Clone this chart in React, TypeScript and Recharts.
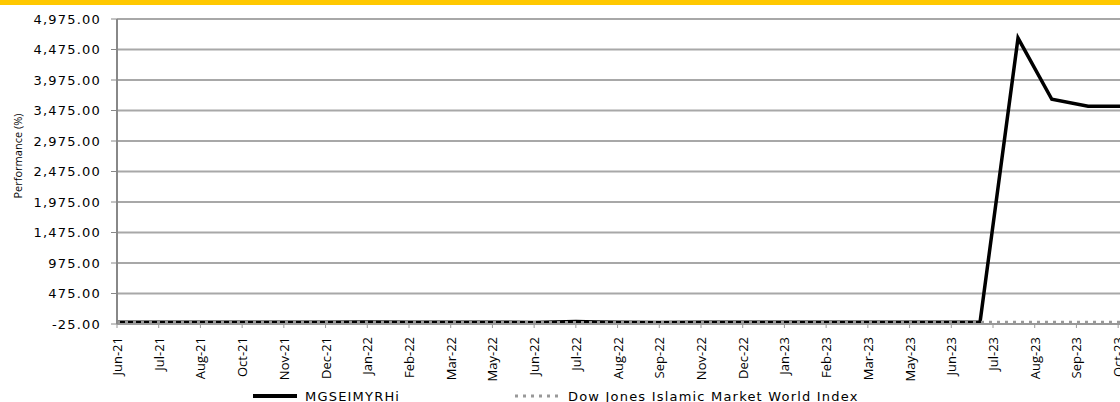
import React from 'react';
import { LineChart, Line, XAxis, YAxis, CartesianGrid } from 'recharts';

// x-axis labels (one per tick, evenly spaced on the category scale)
const tickLabels = [
  'Jun-21', 'Jul-21', 'Aug-21', 'Oct-21', 'Nov-21', 'Dec-21', 'Jan-22', 'Feb-22', 'Mar-22',
  'May-22', 'Jun-22', 'Jul-22', 'Aug-22', 'Sep-22', 'Nov-22', 'Dec-22', 'Jan-23', 'Feb-23',
  'Mar-23', 'May-23', 'Jun-23', 'Jul-23', 'Aug-23', 'Sep-23', 'Oct-23',
];

const yTicks = [-25, 475, 975, 1475, 1975, 2475, 2975, 3475, 3975, 4475, 4975];

// MGSEIMYRHi: position along the tick scale, performance (%)
const mgsPos = [0, 1, 2, 3, 4, 5, 6, 7, 8, 9, 10, 10.5, 11, 11.5, 12, 13, 14, 15, 16, 17, 18, 19, 20, 20.69, 21.6, 22.41, 23.28, 24.5];
const mgsVals = [3, 2, 4, 3, 5, 4, 6, 5, 4, 3, 0, 8, 14, 6, 2, 1, 2, 3, 2, 4, 3, 2, 4, 8, 4663, 3659, 3544, 3544];

// Dow Jones Islamic Market World Index
const djPos = [0, 2, 4, 6, 8, 10, 12, 14, 16, 18, 20, 22, 24, 24.5];
const djVals = [2, 3, 4, 4, 2, -1, 0, -2, 0, 2, 4, 3, 2, 2];

const mgsData = mgsPos.map((x, i) => ({ x, v: mgsVals[i] }));
const djData = djPos.map((x, i) => ({ x, v: djVals[i] }));

const fmt = (v: number) =>
  v.toLocaleString('en-US', { minimumFractionDigits: 2, maximumFractionDigits: 2 });

const XTick = (props: any) => {
  const { x, y, payload } = props;
  return (
    <text
      transform={`translate(${x},${y + 7}) rotate(-90)`}
      textAnchor="end"
      dominantBaseline="central"
      fontFamily="'Open Sans', sans-serif"
      fontSize={13}
      fill="#000"
    >
      {tickLabels[payload.value]}
    </text>
  );
};

const AxisTitle = () => (
  <text
    x={17}
    y={156}
    transform="rotate(-90 17 156)"
    textAnchor="middle"
    dominantBaseline="central"
    fontFamily="'Open Sans', sans-serif"
    fontSize={11}
    fill="#000"
  >
    Performance (%)
  </text>
);

const legendText: React.CSSProperties = {
  fontFamily: "'DejaVu Sans', sans-serif",
  fontSize: 13,
  letterSpacing: 1.2,
  color: '#000',
};

export default function App() {
  return (
    <div style={{ position: 'relative', width: 1120, height: 402, overflow: 'hidden', background: '#fff' }}>
      <style>{'body{margin:0}'}</style>
      <div style={{ position: 'absolute', left: 0, top: 0, width: 1120, height: 5, background: '#FFC800' }} />
      <div style={{ position: 'absolute', left: 0, top: 0 }}>
        <LineChart width={1160} height={402} margin={{ top: 19, right: 21, left: 12, bottom: 18 }}>
          <CartesianGrid vertical={false} stroke="#a8a8a8" strokeWidth={2} />
          <XAxis
            type="number"
            dataKey="x"
            domain={[0, 24.5]}
            ticks={tickLabels.map((_, i) => i)}
            interval={0}
            tick={<XTick />}
            tickSize={4}
            tickLine={{ stroke: '#999' }}
            axisLine={{ stroke: '#999', strokeWidth: 2 }}
            height={60}
            allowDataOverflow
          />
          <YAxis
            type="number"
            domain={[-25, 4975]}
            ticks={yTicks}
            interval={0}
            width={105}
            tickSize={6}
            tickMargin={10}
            tickFormatter={fmt}
            tick={{ fontFamily: "'DejaVu Sans', sans-serif", fontSize: 13, letterSpacing: 1.2, fill: '#000' }}
            tickLine={{ stroke: '#888' }}
            axisLine={{ stroke: '#888', strokeWidth: 2 }}
            label={<AxisTitle />}
          />
          <Line
            data={mgsData}
            dataKey="v"
            type="linear"
            stroke="#000"
            strokeWidth={3.5}
            dot={false}
            isAnimationActive={false}
            name="MGSEIMYRHi"
          />
          <Line
            data={djData}
            dataKey="v"
            type="linear"
            stroke="#999"
            strokeWidth={3}
            strokeDasharray="3 5"
            dot={false}
            isAnimationActive={false}
            name="Dow Jones Islamic Market World Index"
          />
        </LineChart>
      </div>
      <div style={{ position: 'absolute', left: 253, top: 388, display: 'flex', alignItems: 'center', height: 16 }}>
        <div style={{ width: 262, display: 'flex', alignItems: 'center' }}>
          <svg width={44} height={6} style={{ marginRight: 8 }}>
            <line x1={0} y1={3} x2={44} y2={3} stroke="#000" strokeWidth={4} />
          </svg>
          <span style={legendText}>MGSEIMYRHi</span>
        </div>
        <div style={{ display: 'flex', alignItems: 'center' }}>
          <svg width={45} height={6} style={{ marginRight: 8 }}>
            <line x1={0} y1={3} x2={45} y2={3} stroke="#999" strokeWidth={3} strokeDasharray="3 5" />
          </svg>
          <span style={legendText}>Dow Jones Islamic Market World Index</span>
        </div>
      </div>
    </div>
  );
}
